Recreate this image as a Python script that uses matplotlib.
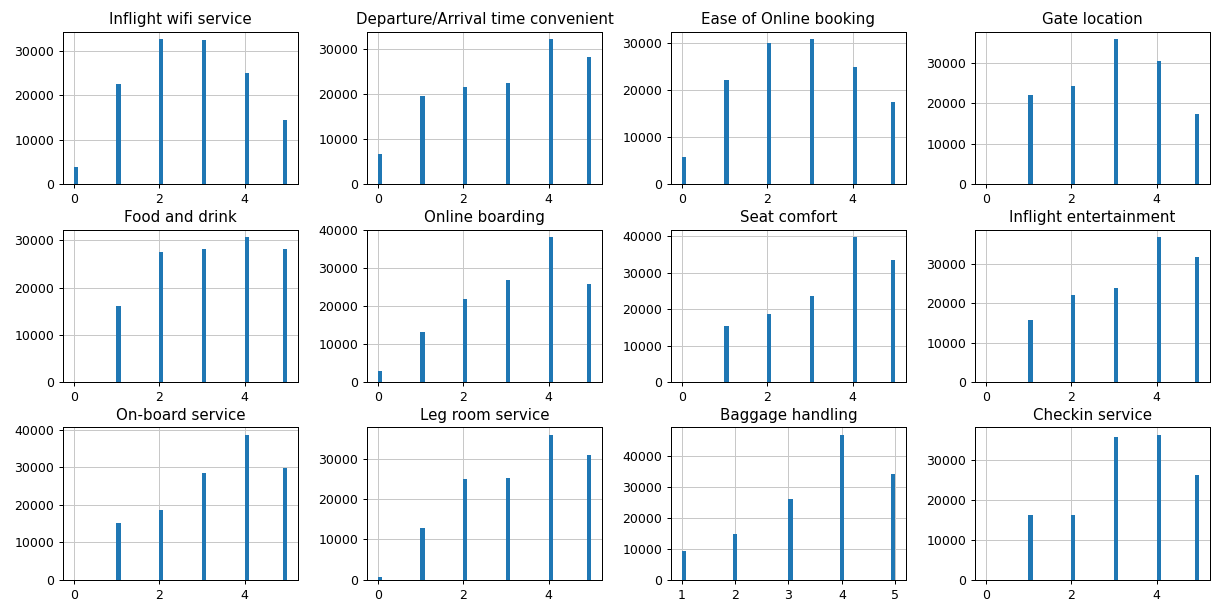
import matplotlib
matplotlib.use("Agg")
import matplotlib.pyplot as plt
from matplotlib.ticker import MaxNLocator

titles = [
    "Inflight wifi service", "Departure/Arrival time convenient",
    "Ease of Online booking", "Gate location",
    "Food and drink", "Online boarding", "Seat comfort",
    "Inflight entertainment", "On-board service", "Leg room service",
    "Baggage handling", "Checkin service",
]

scores_0_5 = [0, 1, 2, 3, 4, 5]
scores_1_5 = [1, 2, 3, 4, 5]

wifi = [3970, 22500, 32600, 32350, 24900, 14500]
departure = [6740, 19560, 21630, 22590, 32300, 28300]
ease_booking = [5900, 22100, 30000, 30800, 24800, 17500]
gate = [1, 22050, 24340, 35800, 30400, 17300]
food = [132, 16070, 27500, 28100, 30700, 28100]
online_boarding = [3020, 13150, 21950, 27020, 38310, 25950]
seat = [1, 15280, 18700, 23600, 39850, 33500]
entertainment = [18, 15800, 22100, 23900, 36800, 31700]
onboard = [5, 15050, 18700, 28500, 38700, 29700]
legroom = [800, 12900, 24900, 25200, 35900, 30900]
baggage = [9300, 14800, 26000, 46800, 34100]
checkin = [1, 16240, 16240, 35620, 36290, 26180]

counts = [wifi, departure, ease_booking, gate, food, online_boarding,
          seat, entertainment, onboard, legroom, baggage, checkin]
scores = [scores_0_5] * 10 + [scores_1_5, scores_0_5]

dpi = 90
fig, axes = plt.subplots(3, 4, figsize=(1218 / dpi, 601 / dpi), dpi=dpi)
fig.subplots_adjust(left=0.0517, right=0.9934, bottom=0.035, top=0.947,
                    wspace=0.294, hspace=0.296)

for ax, title, s, c in zip(axes.flat, titles, scores, counts):
    ax.hist(s, bins=50, weights=c, color="#1f77b4")
    ax.set_title(title)
    ax.grid(True, color="#c8c8c8")
    ax.set_axisbelow(True)
    ax.xaxis.set_major_locator(MaxNLocator(nbins=5, steps=[1, 2, 5, 10]))

fig.savefig("out.png", dpi=dpi)
